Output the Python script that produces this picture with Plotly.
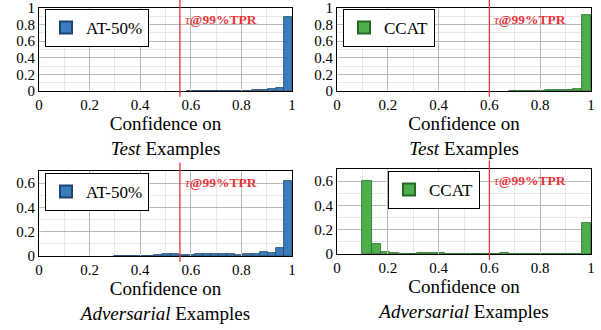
import plotly.graph_objects as go

# ---------------- data ----------------
at_bin_left = [0.200, 0.232, 0.264, 0.296, 0.328, 0.360, 0.392, 0.424, 0.456, 0.488,
               0.520, 0.552, 0.584, 0.616, 0.648, 0.680, 0.712, 0.744, 0.776, 0.808,
               0.840, 0.872, 0.904, 0.936, 0.968]
at_bin_width = 0.032
ccat_bin_left = [0.100, 0.136, 0.172, 0.208, 0.244, 0.280, 0.316, 0.352, 0.388, 0.424,
                 0.460, 0.496, 0.532, 0.568, 0.604, 0.640, 0.676, 0.712, 0.748, 0.784,
                 0.820, 0.856, 0.892, 0.928, 0.964]
ccat_bin_width = 0.036

# None = empty bin
at_test = [None, None, None, None, None, None, None, None, None, None,
           None, None, 0.001, 0.001, 0.002, 0.002, 0.003, 0.004, 0.005, 0.006,
           0.008, 0.012, 0.02, 0.04, 0.89]
at_adv = [None, None, None, 0.001, 0.002, 0.003, 0.004, 0.003, 0.008, 0.02,
          0.018, 0.01, 0.012, 0.015, 0.013, 0.014, 0.014, 0.013, 0.012, 0.014,
          0.02, 0.03, 0.028, 0.07, 0.62]
ccat_test = [None, None, None, None, None, None, None, None, None, None,
             None, None, None, None, None, None, 0.001, 0.002, 0.003, 0.005,
             0.007, 0.01, 0.015, 0.028, 0.92]
ccat_adv = [0.604, 0.08, 0.014, 0.005, 0.002, 0.002, 0.005, 0.005, 0.005, 0.002,
            0.001, 0.001, 0.001, 0.003, 0.002, 0.006, 0.001, 0.002, 0.001, 0.001,
            0.001, 0.002, 0.002, 0.003, 0.258]

at_threshold = 0.557
ccat_threshold = 0.6

names = ["AT-50%", "CCAT", "AT-50%", "CCAT"]
x_titles = ["Confidence on<br><i>Test</i> Examples",
            "Confidence on<br><i>Test</i> Examples",
            "Confidence on<br><i>Adversarial</i> Examples",
            "Confidence on<br><i>Adversarial</i> Examples"]
x_ticks = [0, 0.2, 0.4, 0.6, 0.8, 1]
y_ticks_top = [0, 0.2, 0.4, 0.6, 0.8, 1]
y_ticks_bottom = [0, 0.2, 0.4, 0.6]
threshold_label = "<i>τ</i><b>@99%TPR</b>"

# ---------------- style ----------------
BLUE, BLUE_EDGE = "#3a7cbd", "#1d4770"
GREEN, GREEN_EDGE = "#4caf4a", "#256b25"
RED = "#e8353a"
FONT = "Liberation Serif"

panels = [
    dict(left=at_bin_left, w=at_bin_width, vals=at_test, thr=at_threshold,
         fill=BLUE, edge=BLUE_EDGE, xd=[39/601, 292/601], yd=[1-91/330, 1-8/330],
         yr=[0, 1], yt=y_ticks_top, leg=dict(x=45/601, y=1-9/330)),
    dict(left=ccat_bin_left, w=ccat_bin_width, vals=ccat_test, thr=ccat_threshold,
         fill=GREEN, edge=GREEN_EDGE, xd=[337/601, 591/601], yd=[1-91/330, 1-8/330],
         yr=[0, 1], yt=y_ticks_top, leg=dict(x=343/601, y=1-9/330)),
    dict(left=at_bin_left, w=at_bin_width, vals=at_adv, thr=at_threshold,
         fill=BLUE, edge=BLUE_EDGE, xd=[39/601, 292/601], yd=[1-256/330, 1-171/330],
         yr=[0, 0.7], yt=y_ticks_bottom, leg=dict(x=45/601, y=1-173/330)),
    dict(left=ccat_bin_left, w=ccat_bin_width, vals=ccat_adv, thr=ccat_threshold,
         fill=GREEN, edge=GREEN_EDGE, xd=[337/601, 591/601], yd=[1-254/330, 1-169/330],
         yr=[0, 0.7], yt=y_ticks_bottom, leg=dict(x=388/601, y=1-171/330)),
]

fig = go.Figure()
layout = dict(
    width=601, height=330, autosize=False,
    margin=dict(l=0, r=0, t=0, b=0, pad=0),
    paper_bgcolor="white", plot_bgcolor="white",
    font=dict(family=FONT, size=15, color="black"),
    bargap=0, showlegend=True,
    shapes=[], annotations=[],
)

for i, p in enumerate(panels):
    n = i + 1
    sfx = "" if n == 1 else str(n)
    legname = "legend" if n == 1 else f"legend{n}"
    fig.add_trace(go.Bar(
        x=p["left"], y=p["vals"], width=p["w"], offset=0,
        marker=dict(color=p["fill"], line=dict(color=p["edge"], width=0.8)),
        name=names[i], xaxis=f"x{sfx}", yaxis=f"y{sfx}", legend=legname,
        showlegend=True,
    ))
    axis_common = dict(
        showline=True, linecolor="black", linewidth=1, mirror=True,
        ticks="inside", ticklen=3, tickcolor="#c8c8c8",
        showgrid=True, gridcolor="#b9b9b9", gridwidth=1,
        minor=dict(showgrid=True, gridcolor="#e8e8e8", gridwidth=1, dtick=0.1,
                   ticks=""),
        zeroline=False, tickfont=dict(size=15, family=FONT),
        ticklabeloverflow="allow", automargin=False,
    )
    layout[f"xaxis{sfx}"] = dict(
        axis_common, domain=p["xd"], range=[0, 1], anchor=f"y{sfx}",
        tickvals=x_ticks, ticktext=[f"{v:g}" for v in x_ticks],
        title=dict(text=x_titles[i], font=dict(size=19, family=FONT), standoff=4),
    )
    layout[f"yaxis{sfx}"] = dict(
        axis_common, domain=p["yd"], range=p["yr"], anchor=f"x{sfx}",
        tickvals=p["yt"], ticktext=[f"{v:g}" for v in p["yt"]],
    )
    layout[legname] = dict(
        x=p["leg"]["x"], y=p["leg"]["y"], xanchor="left", yanchor="top",
        xref="paper", yref="paper",
        bgcolor="white", bordercolor="black", borderwidth=1,
        font=dict(size=17, family=FONT), itemsizing="constant",
        tracegroupgap=0,
    )
    layout["shapes"].append(dict(
        type="line", xref=f"x{sfx}", yref=f"y{sfx} domain",
        x0=p["thr"], x1=p["thr"], y0=-0.07, y1=1.1,
        line=dict(color=RED, width=1.3), layer="above",
    ))
    layout["annotations"].append(dict(
        text=threshold_label, xref=f"x{sfx}", yref=f"y{sfx} domain",
        x=p["thr"], y=0.86, xanchor="left", yanchor="middle", xshift=3,
        showarrow=False, font=dict(size=13.5, color=RED, family=FONT),
    ))

fig.update_layout(**layout)
fig.write_html(
    "out.html",
    config={"displayModeBar": False},
    post_script="document.body.style.margin='0';document.body.style.overflow='hidden';",
)
